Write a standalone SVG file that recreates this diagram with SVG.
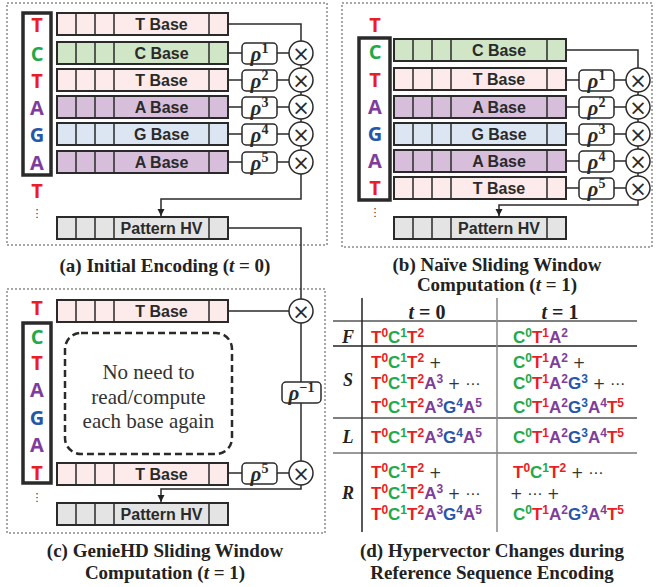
<svg xmlns="http://www.w3.org/2000/svg" width="656" height="587" viewBox="0 0 656 587">
<defs>
<marker id="arr" markerUnits="userSpaceOnUse" markerWidth="8" markerHeight="8" refX="7" refY="4" orient="auto"><path d="M0,0.5 L7,4 L0,7.5 z" fill="#222"/></marker>
<style>
.panel{fill:none;stroke:#a8a8a8;stroke-width:2;stroke-dasharray:2 2}
.bar{stroke:#2a2a2a;stroke-width:2}
.div{stroke:#2a2a2a;stroke-width:1.5}
.fT{fill:#fdeaea}.fC{fill:#d0e6c6}.fA{fill:#d7bedb}.fG{fill:#dbe6f2}.fH{fill:#e4e4e4}
.bl{font-family:"Liberation Sans",Arial,sans-serif;font-weight:bold;font-size:16px;fill:#2a2a2a;text-anchor:middle}
.seqbox{fill:none;stroke:#2a2a2a;stroke-width:3.5}
.sq{font-family:"Open Sans","Liberation Sans",sans-serif;font-weight:bold;font-size:20px;text-anchor:middle}
.T{fill:#ec1c24}.C{fill:#21a94a}.A{fill:#7f3d9b}.G{fill:#2656a8}
.dots{font-family:"DejaVu Sans",sans-serif;font-size:11px;fill:#333;text-anchor:middle}
.ln{fill:none;stroke:#2a2a2a;stroke-width:1.5}
.rbox{fill:#fff;stroke:#2a2a2a;stroke-width:1.5}
.rho{font-family:"Liberation Serif",serif;font-weight:bold;font-style:italic;font-size:21px;fill:#2a2a2a;text-anchor:middle}
.rs{font-style:normal;font-size:14px}
.circ{fill:#fff;stroke:#2a2a2a;stroke-width:1.5}
.x{font-family:"DejaVu Sans",sans-serif;font-size:21px;fill:#2a2a2a;text-anchor:middle}
.cap{font-family:"Liberation Serif",serif;font-weight:bold;font-size:19px;fill:#222;text-anchor:middle}
.it{font-style:italic}
.note{font-family:"Liberation Serif",serif;font-size:21px;fill:#333;text-anchor:middle}
.tl{font-family:"Liberation Sans",Arial,sans-serif;font-weight:bold;font-size:17px}
.sp{font-size:12px}
.pl{font-family:"DejaVu Sans",sans-serif;font-weight:normal;font-size:15px;fill:#333}
.rl{font-family:"Liberation Serif",serif;font-weight:bold;font-style:italic;font-size:18px;fill:#222;text-anchor:middle}
.th{font-family:"Liberation Serif",serif;font-weight:bold;font-size:20px;fill:#222;text-anchor:middle}
</style>
</defs>

<!-- panel borders -->
<rect class="panel" x="7" y="3" width="320" height="242"/>
<rect class="panel" x="342" y="3" width="310" height="244"/>
<rect class="panel" x="7" y="289" width="318" height="244"/>

<!-- ===== Panel (a) ===== -->
<g id="a-seq">
<rect class="seqbox" x="23" y="13" width="28" height="162"/>
<text class="sq T" x="37" y="32">T</text>
<text class="sq C" x="37" y="61">C</text>
<text class="sq T" x="37" y="88">T</text>
<text class="sq A" x="37" y="115">A</text>
<text class="sq G" x="37" y="142">G</text>
<text class="sq A" x="37" y="170">A</text>
<text class="sq T" x="37" y="198">T</text>
<text class="dots" x="37" y="217">⋮</text>
</g>
<g id="a-bar1"><rect class="bar fT" x="57" y="13" width="171" height="22"/><path class="div" d="M76,13V35M95,13V35M114,13V35M209,13V35"/><text class="bl" x="161.5" y="29.5">T Base</text></g>
<g id="a-bar2"><rect class="bar fC" x="57" y="42" width="171" height="22"/><path class="div" d="M76,42V64M95,42V64M114,42V64M209,42V64"/><text class="bl" x="161.5" y="58.5">C Base</text></g>
<g id="a-bar3"><rect class="bar fT" x="57" y="69" width="171" height="22"/><path class="div" d="M76,69V91M95,69V91M114,69V91M209,69V91"/><text class="bl" x="161.5" y="85.5">T Base</text></g>
<g id="a-bar4"><rect class="bar fA" x="57" y="96" width="171" height="22"/><path class="div" d="M76,96V118M95,96V118M114,96V118M209,96V118"/><text class="bl" x="161.5" y="112.5">A Base</text></g>
<g id="a-bar5"><rect class="bar fG" x="57" y="123" width="171" height="22"/><path class="div" d="M76,123V145M95,123V145M114,123V145M209,123V145"/><text class="bl" x="161.5" y="139.5">G Base</text></g>
<g id="a-bar6"><rect class="bar fA" x="57" y="151" width="171" height="22"/><path class="div" d="M76,151V173M95,151V173M114,151V173M209,151V173"/><text class="bl" x="161.5" y="167.5">A Base</text></g>
<g id="a-hv"><rect class="bar fH" x="57" y="217" width="171" height="22"/><path class="div" d="M76,217V239M95,217V239M114,217V239M209,217V239"/><text class="bl" x="161.5" y="233.5">Pattern HV</text></g>

<!-- ===== Panel (b) ===== -->
<g id="b-seq">
<text class="sq T" x="375" y="32">T</text>
<rect class="seqbox" x="359" y="38" width="31" height="162"/>
<text class="sq C" x="375" y="59">C</text>
<text class="sq T" x="375" y="87">T</text>
<text class="sq A" x="375" y="114">A</text>
<text class="sq G" x="375" y="141">G</text>
<text class="sq A" x="375" y="168">A</text>
<text class="sq T" x="375" y="195">T</text>
<text class="dots" x="375" y="216">⋮</text>
</g>
<g id="b-bar1"><rect class="bar fC" x="394" y="39" width="172" height="22"/><path class="div" d="M413,39V61M432,39V61M451,39V61M547,39V61"/><text class="bl" x="499" y="55.5">C Base</text></g>
<g id="b-bar2"><rect class="bar fT" x="394" y="68" width="172" height="22"/><path class="div" d="M413,68V90M432,68V90M451,68V90M547,68V90"/><text class="bl" x="499" y="84.5">T Base</text></g>
<g id="b-bar3"><rect class="bar fA" x="394" y="96" width="172" height="22"/><path class="div" d="M413,96V118M432,96V118M451,96V118M547,96V118"/><text class="bl" x="499" y="112.5">A Base</text></g>
<g id="b-bar4"><rect class="bar fG" x="394" y="123" width="172" height="22"/><path class="div" d="M413,123V145M432,123V145M451,123V145M547,123V145"/><text class="bl" x="499" y="139.5">G Base</text></g>
<g id="b-bar5"><rect class="bar fA" x="394" y="150" width="172" height="22"/><path class="div" d="M413,150V172M432,150V172M451,150V172M547,150V172"/><text class="bl" x="499" y="166.5">A Base</text></g>
<g id="b-bar6"><rect class="bar fT" x="394" y="177" width="172" height="22"/><path class="div" d="M413,177V199M432,177V199M451,177V199M547,177V199"/><text class="bl" x="499" y="193.5">T Base</text></g>
<g id="b-hv"><rect class="bar fH" x="394" y="217" width="172" height="22"/><path class="div" d="M413,217V239M432,217V239M451,217V239M547,217V239"/><text class="bl" x="499" y="233.5">Pattern HV</text></g>

<!-- ===== Panel (c) ===== -->
<g id="c-seq">
<text class="sq T" x="37" y="315">T</text>
<rect class="seqbox" x="23" y="323" width="28" height="160"/>
<text class="sq C" x="37" y="344">C</text>
<text class="sq T" x="37" y="370">T</text>
<text class="sq A" x="37" y="397">A</text>
<text class="sq G" x="37" y="425">G</text>
<text class="sq A" x="37" y="452">A</text>
<text class="sq T" x="37" y="480">T</text>
<text class="dots" x="37" y="501">⋮</text>
</g>
<g id="c-bar1"><rect class="bar fT" x="57" y="300" width="171" height="22"/><path class="div" d="M76,300V322M95,300V322M114,300V322M209,300V322"/><text class="bl" x="161.5" y="316.5">T Base</text></g>
<g id="c-note">
<rect x="65" y="333" width="167" height="121" rx="16" fill="none" stroke="#2a2a2a" stroke-width="2.5" stroke-dasharray="7 4"/>
<text class="note" x="148.5" y="379">No need to</text>
<text class="note" x="148.5" y="404">read/compute</text>
<text class="note" x="148.5" y="428">each base again</text>
</g>
<g id="c-bar2"><rect class="bar fT" x="57" y="463" width="171" height="22"/><path class="div" d="M76,463V485M95,463V485M114,463V485M209,463V485"/><text class="bl" x="161.5" y="479.5">T Base</text></g>
<g id="c-hv"><rect class="bar fH" x="57" y="503" width="171" height="22"/><path class="div" d="M76,503V525M95,503V525M114,503V525M209,503V525"/><text class="bl" x="161.5" y="519.5">Pattern HV</text></g>

<!-- ===== connectors ===== -->
<g id="connectors">
<!-- panel a -->
<path class="ln" d="M228,24H301V41"/>
<path class="ln" d="M228,53H289M228,80H289M228,107H289M228,134H289M228,162H289"/>
<path class="ln" d="M301,65V68M301,92V95M301,119V122M301,146V150"/>
<path class="ln" d="M301,174V199H161V216" marker-end="url(#arr)"/>
<path class="ln" d="M228,228H301V299"/>
<!-- panel b -->
<path class="ln" d="M566,50H638V68"/>
<path class="ln" d="M566,80H626M566,107H626M566,134H626M566,161H626M566,188H626"/>
<path class="ln" d="M638,92V95M638,119V122M638,146V149M638,173V176"/>
<path class="ln" d="M638,200V205H499V216" marker-end="url(#arr)"/>
<!-- panel c -->
<path class="ln" d="M228,311H289"/>
<path class="ln" d="M301,323V461"/>
<path class="ln" d="M228,473H289"/>
<path class="ln" d="M301,485V489H161V502" marker-end="url(#arr)"/>
</g>

<!-- operators panel a -->
<g id="a-rho1"><rect class="rbox" x="242" y="43" width="35" height="21" rx="4"/><text class="rho" x="259.5" y="61">ρ<tspan class="rs" dy="-8">1</tspan></text></g>
<g id="a-rho2"><rect class="rbox" x="242" y="70" width="35" height="21" rx="4"/><text class="rho" x="259.5" y="88">ρ<tspan class="rs" dy="-8">2</tspan></text></g>
<g id="a-rho3"><rect class="rbox" x="242" y="97" width="35" height="21" rx="4"/><text class="rho" x="259.5" y="115">ρ<tspan class="rs" dy="-8">3</tspan></text></g>
<g id="a-rho4"><rect class="rbox" x="242" y="124" width="35" height="21" rx="4"/><text class="rho" x="259.5" y="142">ρ<tspan class="rs" dy="-8">4</tspan></text></g>
<g id="a-rho5"><rect class="rbox" x="242" y="152" width="35" height="21" rx="4"/><text class="rho" x="259.5" y="170">ρ<tspan class="rs" dy="-8">5</tspan></text></g>
<g id="a-m1"><circle class="circ" cx="301" cy="53" r="12"/><text class="x" x="301" y="60.5">×</text></g>
<g id="a-m2"><circle class="circ" cx="301" cy="80" r="12"/><text class="x" x="301" y="87.5">×</text></g>
<g id="a-m3"><circle class="circ" cx="301" cy="107" r="12"/><text class="x" x="301" y="114.5">×</text></g>
<g id="a-m4"><circle class="circ" cx="301" cy="134" r="12"/><text class="x" x="301" y="141.5">×</text></g>
<g id="a-m5"><circle class="circ" cx="301" cy="162" r="12"/><text class="x" x="301" y="169.5">×</text></g>

<!-- operators panel b -->
<g id="b-rho1"><rect class="rbox" x="579" y="70" width="35" height="21" rx="4"/><text class="rho" x="596.5" y="88">ρ<tspan class="rs" dy="-8">1</tspan></text></g>
<g id="b-rho2"><rect class="rbox" x="579" y="97" width="35" height="21" rx="4"/><text class="rho" x="596.5" y="115">ρ<tspan class="rs" dy="-8">2</tspan></text></g>
<g id="b-rho3"><rect class="rbox" x="579" y="124" width="35" height="21" rx="4"/><text class="rho" x="596.5" y="142">ρ<tspan class="rs" dy="-8">3</tspan></text></g>
<g id="b-rho4"><rect class="rbox" x="579" y="151" width="35" height="21" rx="4"/><text class="rho" x="596.5" y="169">ρ<tspan class="rs" dy="-8">4</tspan></text></g>
<g id="b-rho5"><rect class="rbox" x="579" y="178" width="35" height="21" rx="4"/><text class="rho" x="596.5" y="196">ρ<tspan class="rs" dy="-8">5</tspan></text></g>
<g id="b-m1"><circle class="circ" cx="638" cy="80" r="12"/><text class="x" x="638" y="87.5">×</text></g>
<g id="b-m2"><circle class="circ" cx="638" cy="107" r="12"/><text class="x" x="638" y="114.5">×</text></g>
<g id="b-m3"><circle class="circ" cx="638" cy="134" r="12"/><text class="x" x="638" y="141.5">×</text></g>
<g id="b-m4"><circle class="circ" cx="638" cy="161" r="12"/><text class="x" x="638" y="168.5">×</text></g>
<g id="b-m5"><circle class="circ" cx="638" cy="188" r="12"/><text class="x" x="638" y="195.5">×</text></g>

<!-- operators panel c -->
<g id="c-m1"><circle class="circ" cx="301" cy="311" r="12"/><text class="x" x="301" y="318.5">×</text></g>
<g id="c-rhoinv"><rect class="rbox" x="282" y="382" width="39" height="21" rx="4"/><text class="rho" x="301.5" y="400">ρ<tspan class="rs" dy="-8">−1</tspan></text></g>
<g id="c-rho5"><rect class="rbox" x="242" y="463" width="35" height="21" rx="4"/><text class="rho" x="259.5" y="481">ρ<tspan class="rs" dy="-8">5</tspan></text></g>
<g id="c-m2"><circle class="circ" cx="301" cy="473" r="12"/><text class="x" x="301" y="480.5">×</text></g>

<!-- ===== Table (d) ===== -->
<g id="d-table">
<path d="M333,321H637M333,418H637" stroke="#555" stroke-width="1.5"/>
<path d="M333,453H637" stroke="#777" stroke-width="1.5"/>
<path d="M333,346H637" stroke="#222" stroke-width="1.5"/>
<path d="M362,298V532" stroke="#222" stroke-width="1.5"/>
<path d="M497,298V532" stroke="#888" stroke-width="1.5"/>
<text class="th" x="427" y="319"><tspan class="it">t</tspan> = 0</text>
<text class="th" x="560" y="319"><tspan class="it">t</tspan> = 1</text>
<text class="rl" x="348" y="343">F</text>
<text class="rl" x="348" y="386">S</text>
<text class="rl" x="348" y="443">L</text>
<text class="rl" x="348" y="499">R</text>

<!-- F -->
<text class="tl" x="371" y="343"><tspan class="T">T</tspan><tspan class="T sp" dy="-6">0</tspan><tspan class="C" dy="6">C</tspan><tspan class="C sp" dy="-6">1</tspan><tspan class="T" dy="6">T</tspan><tspan class="T sp" dy="-6">2</tspan></text>
<text class="tl" x="513" y="343"><tspan class="C">C</tspan><tspan class="C sp" dy="-6">0</tspan><tspan class="T" dy="6">T</tspan><tspan class="T sp" dy="-6">1</tspan><tspan class="A" dy="6">A</tspan><tspan class="A sp" dy="-6">2</tspan></text>
<!-- S -->
<text class="tl" x="371" y="368"><tspan class="T">T</tspan><tspan class="T sp" dy="-6">0</tspan><tspan class="C" dy="6">C</tspan><tspan class="C sp" dy="-6">1</tspan><tspan class="T" dy="6">T</tspan><tspan class="T sp" dy="-6">2</tspan><tspan class="pl" dy="6"> +</tspan></text>
<text class="tl" x="371" y="389"><tspan class="T">T</tspan><tspan class="T sp" dy="-6">0</tspan><tspan class="C" dy="6">C</tspan><tspan class="C sp" dy="-6">1</tspan><tspan class="T" dy="6">T</tspan><tspan class="T sp" dy="-6">2</tspan><tspan class="A" dy="6">A</tspan><tspan class="A sp" dy="-6">3</tspan><tspan class="pl" dy="6"> + ⋯</tspan></text>
<text class="tl" x="371" y="413"><tspan class="T">T</tspan><tspan class="T sp" dy="-6">0</tspan><tspan class="C" dy="6">C</tspan><tspan class="C sp" dy="-6">1</tspan><tspan class="T" dy="6">T</tspan><tspan class="T sp" dy="-6">2</tspan><tspan class="A" dy="6">A</tspan><tspan class="A sp" dy="-6">3</tspan><tspan class="G" dy="6">G</tspan><tspan class="G sp" dy="-6">4</tspan><tspan class="A" dy="6">A</tspan><tspan class="A sp" dy="-6">5</tspan></text>
<text class="tl" x="513" y="368"><tspan class="C">C</tspan><tspan class="C sp" dy="-6">0</tspan><tspan class="T" dy="6">T</tspan><tspan class="T sp" dy="-6">1</tspan><tspan class="A" dy="6">A</tspan><tspan class="A sp" dy="-6">2</tspan><tspan class="pl" dy="6"> +</tspan></text>
<text class="tl" x="513" y="389"><tspan class="C">C</tspan><tspan class="C sp" dy="-6">0</tspan><tspan class="T" dy="6">T</tspan><tspan class="T sp" dy="-6">1</tspan><tspan class="A" dy="6">A</tspan><tspan class="A sp" dy="-6">2</tspan><tspan class="G" dy="6">G</tspan><tspan class="G sp" dy="-6">3</tspan><tspan class="pl" dy="6"> + ⋯</tspan></text>
<text class="tl" x="513" y="413"><tspan class="C">C</tspan><tspan class="C sp" dy="-6">0</tspan><tspan class="T" dy="6">T</tspan><tspan class="T sp" dy="-6">1</tspan><tspan class="A" dy="6">A</tspan><tspan class="A sp" dy="-6">2</tspan><tspan class="G" dy="6">G</tspan><tspan class="G sp" dy="-6">3</tspan><tspan class="A" dy="6">A</tspan><tspan class="A sp" dy="-6">4</tspan><tspan class="T" dy="6">T</tspan><tspan class="T sp" dy="-6">5</tspan></text>
<!-- L -->
<text class="tl" x="371" y="443"><tspan class="T">T</tspan><tspan class="T sp" dy="-6">0</tspan><tspan class="C" dy="6">C</tspan><tspan class="C sp" dy="-6">1</tspan><tspan class="T" dy="6">T</tspan><tspan class="T sp" dy="-6">2</tspan><tspan class="A" dy="6">A</tspan><tspan class="A sp" dy="-6">3</tspan><tspan class="G" dy="6">G</tspan><tspan class="G sp" dy="-6">4</tspan><tspan class="A" dy="6">A</tspan><tspan class="A sp" dy="-6">5</tspan></text>
<text class="tl" x="513" y="443"><tspan class="C">C</tspan><tspan class="C sp" dy="-6">0</tspan><tspan class="T" dy="6">T</tspan><tspan class="T sp" dy="-6">1</tspan><tspan class="A" dy="6">A</tspan><tspan class="A sp" dy="-6">2</tspan><tspan class="G" dy="6">G</tspan><tspan class="G sp" dy="-6">3</tspan><tspan class="A" dy="6">A</tspan><tspan class="A sp" dy="-6">4</tspan><tspan class="T" dy="6">T</tspan><tspan class="T sp" dy="-6">5</tspan></text>
<!-- R -->
<text class="tl" x="371" y="478"><tspan class="T">T</tspan><tspan class="T sp" dy="-6">0</tspan><tspan class="C" dy="6">C</tspan><tspan class="C sp" dy="-6">1</tspan><tspan class="T" dy="6">T</tspan><tspan class="T sp" dy="-6">2</tspan><tspan class="pl" dy="6"> +</tspan></text>
<text class="tl" x="371" y="499"><tspan class="T">T</tspan><tspan class="T sp" dy="-6">0</tspan><tspan class="C" dy="6">C</tspan><tspan class="C sp" dy="-6">1</tspan><tspan class="T" dy="6">T</tspan><tspan class="T sp" dy="-6">2</tspan><tspan class="A" dy="6">A</tspan><tspan class="A sp" dy="-6">3</tspan><tspan class="pl" dy="6"> + ⋯</tspan></text>
<text class="tl" x="371" y="520"><tspan class="T">T</tspan><tspan class="T sp" dy="-6">0</tspan><tspan class="C" dy="6">C</tspan><tspan class="C sp" dy="-6">1</tspan><tspan class="T" dy="6">T</tspan><tspan class="T sp" dy="-6">2</tspan><tspan class="A" dy="6">A</tspan><tspan class="A sp" dy="-6">3</tspan><tspan class="G" dy="6">G</tspan><tspan class="G sp" dy="-6">4</tspan><tspan class="A" dy="6">A</tspan><tspan class="A sp" dy="-6">5</tspan></text>
<text class="tl" x="513" y="478"><tspan class="T">T</tspan><tspan class="T sp" dy="-6">0</tspan><tspan class="C" dy="6">C</tspan><tspan class="C sp" dy="-6">1</tspan><tspan class="T" dy="6">T</tspan><tspan class="T sp" dy="-6">2</tspan><tspan class="pl" dy="6"> + ⋯</tspan></text>
<text class="tl" x="510" y="499"><tspan class="pl">+ ⋯ +</tspan></text>
<text class="tl" x="513" y="520"><tspan class="C">C</tspan><tspan class="C sp" dy="-6">0</tspan><tspan class="T" dy="6">T</tspan><tspan class="T sp" dy="-6">1</tspan><tspan class="A" dy="6">A</tspan><tspan class="A sp" dy="-6">2</tspan><tspan class="G" dy="6">G</tspan><tspan class="G sp" dy="-6">3</tspan><tspan class="A" dy="6">A</tspan><tspan class="A sp" dy="-6">4</tspan><tspan class="T" dy="6">T</tspan><tspan class="T sp" dy="-6">5</tspan></text>
</g>

<!-- captions -->
<text class="cap" x="165" y="272">(a) Initial Encoding (<tspan class="it">t</tspan> = 0)</text>
<text class="cap" x="497" y="271">(b) Naïve Sliding Window</text>
<text class="cap" x="497" y="291">Computation (<tspan class="it">t</tspan> = 1)</text>
<text class="cap" x="165" y="557">(c) GenieHD Sliding Window</text>
<text class="cap" x="165" y="579">Computation (<tspan class="it">t</tspan> = 1)</text>
<text class="cap" x="492" y="557">(d) Hypervector Changes during</text>
<text class="cap" x="492" y="579">Reference Sequence Encoding</text>
</svg>
